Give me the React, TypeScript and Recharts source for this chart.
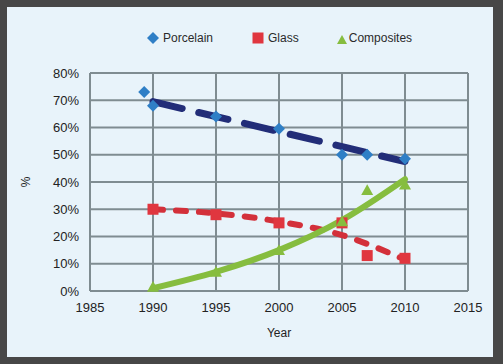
import React from 'react';
import { ComposedChart, Scatter, Line, XAxis, YAxis, CartesianGrid, Label } from 'recharts';

// measured points (year, %)
const porcelainPoints = [
  { year: 1989.3, value: 73 },
  { year: 1990, value: 68 },
  { year: 1995, value: 64 },
  { year: 2000, value: 59.5 },
  { year: 2005, value: 50 },
  { year: 2007, value: 50 },
  { year: 2010, value: 48.5 },
];
const glassPoints = [
  { year: 1990, value: 30 },
  { year: 1995, value: 28 },
  { year: 2000, value: 25 },
  { year: 2005, value: 25 },
  { year: 2007, value: 13 },
  { year: 2010, value: 12 },
];
const compositePoints = [
  { year: 1990, value: 1.5 },
  { year: 1995, value: 7 },
  { year: 2000, value: 15 },
  { year: 2005, value: 25.5 },
  { year: 2007, value: 37 },
  { year: 2010, value: 39 },
];

// trend lines
const porcelainTrend = [
  { year: 1990, value: 69.5 },
  { year: 2010, value: 47.5 },
];
const glassTrend = [
  { year: 1990, value: 30 },
  { year: 1995, value: 28.5 },
  { year: 2000, value: 25.5 },
  { year: 2005, value: 20.5 },
  { year: 2010, value: 11.5 },
];
const compositeTrend = [
  { year: 1990, value: 1 },
  { year: 1995, value: 7 },
  { year: 2000, value: 15 },
  { year: 2005, value: 26 },
  { year: 2010, value: 41 },
];

const xTicks = [1985, 1990, 1995, 2000, 2005, 2010, 2015];
const yTicks = [0, 10, 20, 30, 40, 50, 60, 70, 80];

const FONT = 'Arial, "Liberation Sans", sans-serif';
const BLUE = '#2f7fc6';
const NAVY = '#222d78';
const RED = '#e0363f';
const GREEN = '#86bd3f';

const Diamond = (props: any) => {
  const { cx, cy } = props;
  const r = 6;
  return <path d={`M${cx},${cy - r}L${cx + r},${cy}L${cx},${cy + r}L${cx - r},${cy}Z`} fill={BLUE} />;
};
const Square = (props: any) => {
  const { cx, cy } = props;
  return <rect x={cx - 5.5} y={cy - 5.5} width={11} height={11} fill={RED} />;
};
const Triangle = (props: any) => {
  const { cx, cy } = props;
  const r = 6;
  return <path d={`M${cx},${cy - r}L${cx + r},${cy + r * 0.8}L${cx - r},${cy + r * 0.8}Z`} fill={GREEN} />;
};

const legendItems = [
  { name: 'Porcelain', icon: 'diamond', gap: 39 },
  { name: 'Glass', icon: 'square', gap: 37 },
  { name: 'Composites', icon: 'triangle', gap: 0 },
];

const LegendIcon = ({ icon }: { icon: string }) => (
  <svg width={12} height={12} style={{ marginRight: icon === 'triangle' ? 1 : 4 }}>
    {icon === 'diamond' && <path d="M6,0L12,6L6,12L0,6Z" fill={BLUE} />}
    {icon === 'square' && <rect x={0.5} y={0.5} width={11} height={11} fill={RED} />}
    {icon === 'triangle' && <path d="M6,3L11,12L1,12Z" fill={GREEN} />}
  </svg>
);

const App: React.FC = () => {
  return (
    <div style={{ position: 'absolute', left: 0, top: 0, width: 503, height: 364, background: '#474747' }}>
      <div style={{ position: 'absolute', left: 7, top: 7, width: 486, height: 350, background: '#e8f3fa' }} />
      <div
        style={{
          position: 'absolute',
          top: 31,
          left: 147,
          display: 'flex',
          alignItems: 'center',
          fontFamily: FONT,
          fontSize: 12,
          color: '#2a2a2a',
        }}
      >
        {legendItems.map((it) => (
          <div key={it.name} style={{ display: 'flex', alignItems: 'center', marginRight: it.gap }}>
            <LegendIcon icon={it.icon} />
            <span>{it.name}</span>
          </div>
        ))}
      </div>
      <div style={{ position: 'absolute', left: 0, top: 0 }}>
        <ComposedChart width={503} height={364} margin={{ top: 73, right: 35, bottom: 23, left: 10 }}>
          <CartesianGrid stroke="#7f8c91" strokeWidth={2} />
          <XAxis
            type="number"
            dataKey="year"
            domain={[1985, 2015]}
            ticks={xTicks}
            height={50}
            axisLine={false}
            tickLine={false}
            tickSize={0}
            tickMargin={12}
            tick={{ fill: '#222', fontSize: 13, fontFamily: FONT }}
          >
            <Label
              content={(p: any) => (
                <text
                  x={p.viewBox.x + p.viewBox.width / 2}
                  y={p.viewBox.y + 46}
                  textAnchor="middle"
                  fontSize={12}
                  fontFamily={FONT}
                  fill="#222"
                >
                  Year
                </text>
              )}
            />
          </XAxis>
          <YAxis
            type="number"
            dataKey="value"
            domain={[0, 80]}
            ticks={yTicks}
            width={80}
            axisLine={false}
            tickLine={false}
            tickSize={0}
            tickMargin={11}
            tickFormatter={(v: number) => `${v}%`}
            tick={{ fill: '#222', fontSize: 13, fontFamily: FONT }}
          >
            <Label
              content={(p: any) => {
                const x = p.viewBox.x + 16;
                const y = p.viewBox.y + p.viewBox.height / 2;
                return (
                  <text
                    x={x}
                    y={y}
                    transform={`rotate(-90 ${x} ${y})`}
                    textAnchor="middle"
                    dominantBaseline="central"
                    fontSize={12}
                    fontFamily={FONT}
                    fill="#222"
                  >
                    %
                  </text>
                );
              }}
            />
          </YAxis>
          <Scatter data={porcelainPoints} dataKey="value" shape={Diamond} isAnimationActive={false} />
          <Scatter data={glassPoints} dataKey="value" shape={Square} isAnimationActive={false} />
          <Scatter data={compositePoints} dataKey="value" shape={Triangle} isAnimationActive={false} />
          <Line
            data={porcelainTrend}
            dataKey="value"
            type="linear"
            stroke={NAVY}
            strokeWidth={7}
            strokeDasharray="30 17"
            strokeLinecap="round"
            dot={false}
            isAnimationActive={false}
          />
          <Line
            data={glassTrend}
            dataKey="value"
            type="monotone"
            stroke="#d3303a"
            strokeWidth={6}
            strokeDasharray="10 13"
            strokeLinecap="round"
            dot={false}
            isAnimationActive={false}
          />
          <Line
            data={compositeTrend}
            dataKey="value"
            type="monotone"
            stroke={GREEN}
            strokeWidth={6}
            strokeLinecap="round"
            dot={false}
            isAnimationActive={false}
          />
        </ComposedChart>
      </div>
    </div>
  );
};

export default App;
